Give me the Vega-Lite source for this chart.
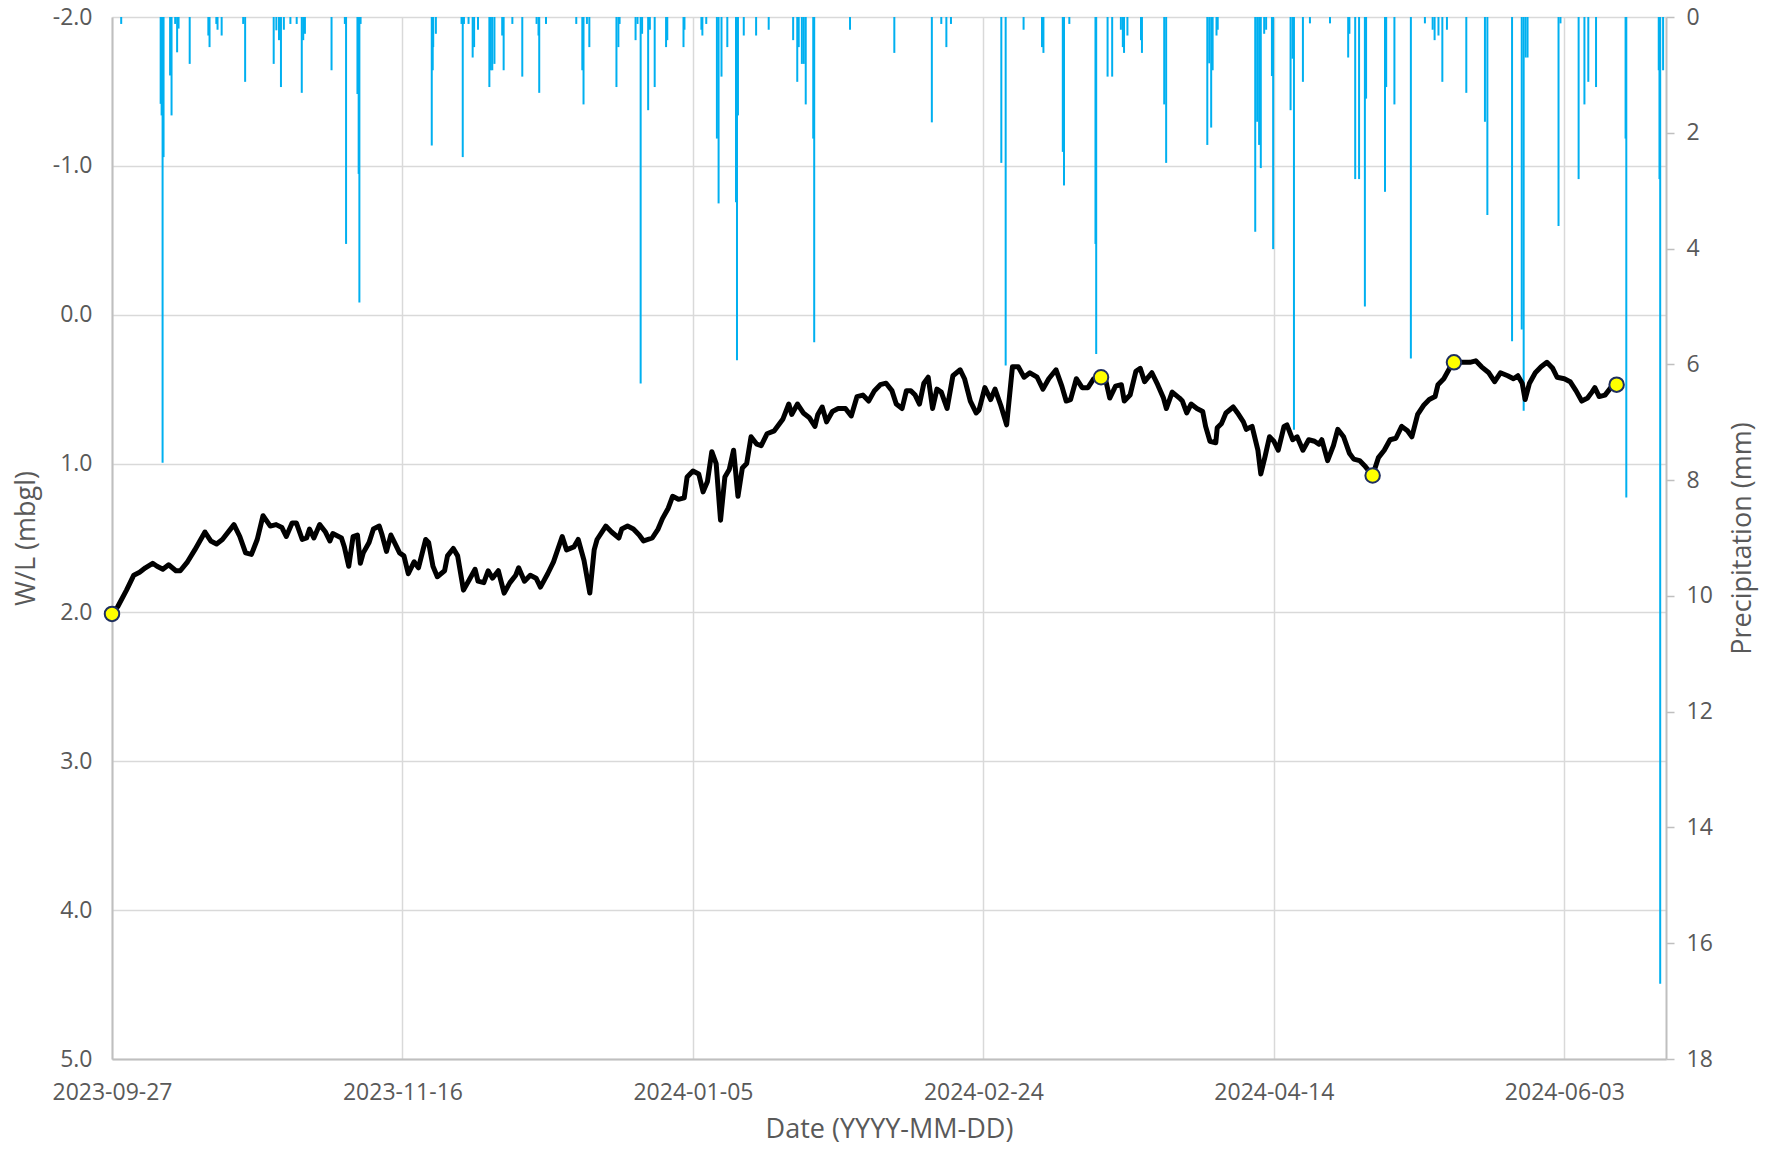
{
  "$schema": "https://vega.github.io/schema/vega-lite/v6.json",
  "width": 1554,
  "height": 1042,
  "autosize": {"type": "none"},
  "padding": {"left": 112, "top": 17, "right": 101, "bottom": 90},
  "background": "white",
  "config": {
    "font": "Open Sans",
    "view": {"stroke": null},
    "axis": {"labelFont": "Open Sans", "titleFont": "Open Sans", "labelColor": "#595959", "titleColor": "#595959", "titleFontWeight": "normal", "labelFontSize": 23, "titleFontSize": 27, "gridColor": "#d9d9d9", "gridWidth": 1.5, "domainColor": "#bfbfbf", "domainWidth": 2, "tickColor": "#bfbfbf", "tickWidth": 1.5, "labelOverlap": false}
  },
  "datasets": {
    "wl": [
      {"t":"2023-09-27T00:00","wl":2.01},{"t":"2023-09-28T00:00","wl":1.96},{"t":"2023-09-29T12:00","wl":1.85},{"t":"2023-09-30T18:00","wl":1.75},{"t":"2023-10-01T18:00","wl":1.73},{"t":"2023-10-02T18:00","wl":1.70},{"t":"2023-10-04T00:00","wl":1.67},{"t":"2023-10-04T18:00","wl":1.69},{"t":"2023-10-05T18:00","wl":1.71},{"t":"2023-10-06T18:00","wl":1.68},{"t":"2023-10-08T00:00","wl":1.72},{"t":"2023-10-08T18:00","wl":1.72},{"t":"2023-10-10T00:00","wl":1.66},{"t":"2023-10-11T06:00","wl":1.58},{"t":"2023-10-13T00:00","wl":1.46},{"t":"2023-10-14T00:00","wl":1.52},{"t":"2023-10-15T00:00","wl":1.54},{"t":"2023-10-16T00:00","wl":1.51},{"t":"2023-10-18T00:00","wl":1.41},{"t":"2023-10-19T00:00","wl":1.49},{"t":"2023-10-20T00:00","wl":1.60},{"t":"2023-10-21T00:00","wl":1.61},{"t":"2023-10-22T00:00","wl":1.51},{"t":"2023-10-23T00:00","wl":1.35},{"t":"2023-10-24T06:00","wl":1.42},{"t":"2023-10-25T06:00","wl":1.41},{"t":"2023-10-26T06:00","wl":1.43},{"t":"2023-10-27T00:00","wl":1.49},{"t":"2023-10-28T00:00","wl":1.40},{"t":"2023-10-28T18:00","wl":1.40},{"t":"2023-10-29T18:00","wl":1.51},{"t":"2023-10-30T12:00","wl":1.50},{"t":"2023-10-31T00:00","wl":1.44},{"t":"2023-10-31T18:00","wl":1.50},{"t":"2023-11-01T18:00","wl":1.41},{"t":"2023-11-02T18:00","wl":1.46},{"t":"2023-11-03T12:00","wl":1.52},{"t":"2023-11-04T00:00","wl":1.47},{"t":"2023-11-05T12:00","wl":1.50},{"t":"2023-11-06T00:00","wl":1.56},{"t":"2023-11-06T18:00","wl":1.69},{"t":"2023-11-07T12:00","wl":1.49},{"t":"2023-11-08T06:00","wl":1.48},{"t":"2023-11-08T18:00","wl":1.67},{"t":"2023-11-09T06:00","wl":1.60},{"t":"2023-11-10T06:00","wl":1.53},{"t":"2023-11-11T00:00","wl":1.44},{"t":"2023-11-12T00:00","wl":1.42},{"t":"2023-11-12T12:00","wl":1.48},{"t":"2023-11-13T06:00","wl":1.59},{"t":"2023-11-14T00:00","wl":1.48},{"t":"2023-11-15T00:00","wl":1.56},{"t":"2023-11-15T12:00","wl":1.60},{"t":"2023-11-16T06:00","wl":1.62},{"t":"2023-11-17T00:00","wl":1.74},{"t":"2023-11-18T00:00","wl":1.66},{"t":"2023-11-18T18:00","wl":1.70},{"t":"2023-11-20T00:00","wl":1.51},{"t":"2023-11-20T12:00","wl":1.53},{"t":"2023-11-21T06:00","wl":1.69},{"t":"2023-11-22T00:00","wl":1.76},{"t":"2023-11-23T06:00","wl":1.72},{"t":"2023-11-23T18:00","wl":1.62},{"t":"2023-11-24T18:00","wl":1.57},{"t":"2023-11-25T12:00","wl":1.62},{"t":"2023-11-26T12:00","wl":1.85},{"t":"2023-11-27T12:00","wl":1.78},{"t":"2023-11-28T12:00","wl":1.71},{"t":"2023-11-29T00:00","wl":1.79},{"t":"2023-11-30T00:00","wl":1.80},{"t":"2023-11-30T18:00","wl":1.72},{"t":"2023-12-01T12:00","wl":1.77},{"t":"2023-12-02T12:00","wl":1.72},{"t":"2023-12-03T12:00","wl":1.87},{"t":"2023-12-04T12:00","wl":1.80},{"t":"2023-12-05T12:00","wl":1.75},{"t":"2023-12-06T00:00","wl":1.70},{"t":"2023-12-07T00:00","wl":1.79},{"t":"2023-12-08T00:00","wl":1.75},{"t":"2023-12-09T00:00","wl":1.77},{"t":"2023-12-09T18:00","wl":1.83},{"t":"2023-12-11T00:00","wl":1.74},{"t":"2023-12-12T00:00","wl":1.66},{"t":"2023-12-13T12:00","wl":1.49},{"t":"2023-12-14T06:00","wl":1.58},{"t":"2023-12-15T12:00","wl":1.56},{"t":"2023-12-16T06:00","wl":1.51},{"t":"2023-12-17T06:00","wl":1.65},{"t":"2023-12-18T06:00","wl":1.87},{"t":"2023-12-19T00:00","wl":1.58},{"t":"2023-12-19T12:00","wl":1.51},{"t":"2023-12-21T00:00","wl":1.42},{"t":"2023-12-22T00:00","wl":1.46},{"t":"2023-12-23T06:00","wl":1.50},{"t":"2023-12-23T18:00","wl":1.44},{"t":"2023-12-24T18:00","wl":1.42},{"t":"2023-12-25T18:00","wl":1.44},{"t":"2023-12-26T18:00","wl":1.48},{"t":"2023-12-27T12:00","wl":1.52},{"t":"2023-12-29T00:00","wl":1.50},{"t":"2023-12-30T00:00","wl":1.44},{"t":"2023-12-30T18:00","wl":1.37},{"t":"2023-12-31T18:00","wl":1.30},{"t":"2024-01-01T12:00","wl":1.22},{"t":"2024-01-02T12:00","wl":1.24},{"t":"2024-01-03T12:00","wl":1.23},{"t":"2024-01-04T00:00","wl":1.09},{"t":"2024-01-05T00:00","wl":1.05},{"t":"2024-01-06T00:00","wl":1.07},{"t":"2024-01-06T18:00","wl":1.19},{"t":"2024-01-07T12:00","wl":1.12},{"t":"2024-01-08T06:00","wl":0.92},{"t":"2024-01-09T00:00","wl":1.00},{"t":"2024-01-09T18:00","wl":1.38},{"t":"2024-01-10T12:00","wl":1.09},{"t":"2024-01-11T06:00","wl":1.04},{"t":"2024-01-12T00:00","wl":0.91},{"t":"2024-01-12T18:00","wl":1.22},{"t":"2024-01-13T12:00","wl":1.03},{"t":"2024-01-14T06:00","wl":1.00},{"t":"2024-01-15T00:00","wl":0.82},{"t":"2024-01-16T00:00","wl":0.87},{"t":"2024-01-16T18:00","wl":0.88},{"t":"2024-01-17T18:00","wl":0.80},{"t":"2024-01-19T00:00","wl":0.78},{"t":"2024-01-20T12:00","wl":0.70},{"t":"2024-01-21T12:00","wl":0.60},{"t":"2024-01-22T00:00","wl":0.67},{"t":"2024-01-23T00:00","wl":0.60},{"t":"2024-01-24T00:00","wl":0.66},{"t":"2024-01-25T00:00","wl":0.69},{"t":"2024-01-26T00:00","wl":0.75},{"t":"2024-01-26T12:00","wl":0.67},{"t":"2024-01-27T06:00","wl":0.62},{"t":"2024-01-28T00:00","wl":0.72},{"t":"2024-01-29T00:00","wl":0.65},{"t":"2024-01-30T00:00","wl":0.63},{"t":"2024-01-31T06:00","wl":0.63},{"t":"2024-02-01T06:00","wl":0.68},{"t":"2024-02-02T06:00","wl":0.55},{"t":"2024-02-03T06:00","wl":0.54},{"t":"2024-02-04T06:00","wl":0.58},{"t":"2024-02-05T06:00","wl":0.51},{"t":"2024-02-06T06:00","wl":0.47},{"t":"2024-02-07T06:00","wl":0.46},{"t":"2024-02-08T06:00","wl":0.51},{"t":"2024-02-09T00:00","wl":0.60},{"t":"2024-02-10T00:00","wl":0.63},{"t":"2024-02-10T18:00","wl":0.51},{"t":"2024-02-11T12:00","wl":0.51},{"t":"2024-02-12T06:00","wl":0.54},{"t":"2024-02-13T00:00","wl":0.60},{"t":"2024-02-13T18:00","wl":0.46},{"t":"2024-02-14T12:00","wl":0.42},{"t":"2024-02-15T06:00","wl":0.63},{"t":"2024-02-16T00:00","wl":0.50},{"t":"2024-02-16T18:00","wl":0.52},{"t":"2024-02-17T18:00","wl":0.63},{"t":"2024-02-18T18:00","wl":0.41},{"t":"2024-02-20T00:00","wl":0.37},{"t":"2024-02-20T18:00","wl":0.43},{"t":"2024-02-21T18:00","wl":0.58},{"t":"2024-02-22T18:00","wl":0.66},{"t":"2024-02-23T06:00","wl":0.64},{"t":"2024-02-24T06:00","wl":0.49},{"t":"2024-02-25T06:00","wl":0.57},{"t":"2024-02-26T00:00","wl":0.50},{"t":"2024-02-27T00:00","wl":0.61},{"t":"2024-02-28T00:00","wl":0.74},{"t":"2024-02-29T00:00","wl":0.35},{"t":"2024-03-01T00:00","wl":0.35},{"t":"2024-03-02T00:00","wl":0.42},{"t":"2024-03-03T00:00","wl":0.39},{"t":"2024-03-04T06:00","wl":0.42},{"t":"2024-03-05T06:00","wl":0.50},{"t":"2024-03-06T06:00","wl":0.43},{"t":"2024-03-07T12:00","wl":0.37},{"t":"2024-03-08T12:00","wl":0.48},{"t":"2024-03-09T06:00","wl":0.58},{"t":"2024-03-10T00:00","wl":0.57},{"t":"2024-03-11T00:00","wl":0.43},{"t":"2024-03-12T00:00","wl":0.49},{"t":"2024-03-13T00:00","wl":0.49},{"t":"2024-03-14T00:00","wl":0.43},{"t":"2024-03-15T06:00","wl":0.42},{"t":"2024-03-16T00:00","wl":0.43},{"t":"2024-03-16T18:00","wl":0.56},{"t":"2024-03-17T18:00","wl":0.48},{"t":"2024-03-18T18:00","wl":0.47},{"t":"2024-03-19T06:00","wl":0.58},{"t":"2024-03-20T06:00","wl":0.54},{"t":"2024-03-21T06:00","wl":0.38},{"t":"2024-03-22T00:00","wl":0.36},{"t":"2024-03-22T18:00","wl":0.45},{"t":"2024-03-24T00:00","wl":0.39},{"t":"2024-03-25T00:00","wl":0.47},{"t":"2024-03-26T00:00","wl":0.56},{"t":"2024-03-26T12:00","wl":0.63},{"t":"2024-03-27T12:00","wl":0.52},{"t":"2024-03-28T18:00","wl":0.56},{"t":"2024-03-29T06:00","wl":0.58},{"t":"2024-03-30T00:00","wl":0.66},{"t":"2024-03-30T18:00","wl":0.60},{"t":"2024-03-31T18:00","wl":0.63},{"t":"2024-04-01T18:00","wl":0.65},{"t":"2024-04-02T06:00","wl":0.75},{"t":"2024-04-03T00:00","wl":0.85},{"t":"2024-04-04T00:00","wl":0.86},{"t":"2024-04-04T06:00","wl":0.76},{"t":"2024-04-05T00:00","wl":0.73},{"t":"2024-04-05T18:00","wl":0.66},{"t":"2024-04-07T00:00","wl":0.62},{"t":"2024-04-07T18:00","wl":0.66},{"t":"2024-04-08T18:00","wl":0.72},{"t":"2024-04-09T06:00","wl":0.77},{"t":"2024-04-10T06:00","wl":0.75},{"t":"2024-04-11T06:00","wl":0.91},{"t":"2024-04-11T18:00","wl":1.07},{"t":"2024-04-12T12:00","wl":0.95},{"t":"2024-04-13T06:00","wl":0.82},{"t":"2024-04-14T00:00","wl":0.85},{"t":"2024-04-14T18:00","wl":0.91},{"t":"2024-04-15T18:00","wl":0.75},{"t":"2024-04-16T06:00","wl":0.74},{"t":"2024-04-17T06:00","wl":0.84},{"t":"2024-04-18T00:00","wl":0.82},{"t":"2024-04-19T00:00","wl":0.91},{"t":"2024-04-20T00:00","wl":0.84},{"t":"2024-04-21T00:00","wl":0.85},{"t":"2024-04-21T18:00","wl":0.87},{"t":"2024-04-22T06:00","wl":0.84},{"t":"2024-04-23T06:00","wl":0.98},{"t":"2024-04-24T06:00","wl":0.88},{"t":"2024-04-25T00:00","wl":0.77},{"t":"2024-04-26T00:00","wl":0.82},{"t":"2024-04-27T00:00","wl":0.93},{"t":"2024-04-27T18:00","wl":0.97},{"t":"2024-04-28T18:00","wl":0.98},{"t":"2024-04-29T18:00","wl":1.02},{"t":"2024-05-01T00:00","wl":1.08},{"t":"2024-05-02T00:00","wl":0.96},{"t":"2024-05-03T00:00","wl":0.91},{"t":"2024-05-04T00:00","wl":0.84},{"t":"2024-05-05T00:00","wl":0.83},{"t":"2024-05-06T00:00","wl":0.75},{"t":"2024-05-07T00:00","wl":0.78},{"t":"2024-05-07T18:00","wl":0.82},{"t":"2024-05-08T18:00","wl":0.67},{"t":"2024-05-09T18:00","wl":0.61},{"t":"2024-05-10T18:00","wl":0.57},{"t":"2024-05-11T18:00","wl":0.55},{"t":"2024-05-12T06:00","wl":0.47},{"t":"2024-05-13T06:00","wl":0.43},{"t":"2024-05-14T06:00","wl":0.36},{"t":"2024-05-15T00:00","wl":0.32},{"t":"2024-05-16T06:00","wl":0.32},{"t":"2024-05-17T18:00","wl":0.32},{"t":"2024-05-18T18:00","wl":0.31},{"t":"2024-05-19T18:00","wl":0.35},{"t":"2024-05-21T00:00","wl":0.39},{"t":"2024-05-22T00:00","wl":0.45},{"t":"2024-05-23T00:00","wl":0.39},{"t":"2024-05-24T06:00","wl":0.41},{"t":"2024-05-25T06:00","wl":0.43},{"t":"2024-05-26T00:00","wl":0.41},{"t":"2024-05-26T18:00","wl":0.46},{"t":"2024-05-27T06:00","wl":0.57},{"t":"2024-05-28T00:00","wl":0.46},{"t":"2024-05-29T00:00","wl":0.39},{"t":"2024-05-30T00:00","wl":0.35},{"t":"2024-05-31T00:00","wl":0.32},{"t":"2024-06-01T00:00","wl":0.36},{"t":"2024-06-01T18:00","wl":0.42},{"t":"2024-06-03T00:00","wl":0.43},{"t":"2024-06-04T00:00","wl":0.45},{"t":"2024-06-05T00:00","wl":0.51},{"t":"2024-06-06T00:00","wl":0.58},{"t":"2024-06-07T00:00","wl":0.56},{"t":"2024-06-07T18:00","wl":0.52},{"t":"2024-06-08T06:00","wl":0.49},{"t":"2024-06-09T00:00","wl":0.55},{"t":"2024-06-10T00:00","wl":0.54},{"t":"2024-06-11T00:00","wl":0.49},{"t":"2024-06-12T00:00","wl":0.47}
    ],
    "pts": [
      {"t":"2023-09-27T00:00","wl":2.01},{"t":"2024-03-15T06:00","wl":0.42},{"t":"2024-05-01T00:00","wl":1.08},{"t":"2024-05-15T00:00","wl":0.32},{"t":"2024-06-12T00:00","wl":0.47}
    ],
    "pr": [
      {"t":"2023-09-28T14:00","p":0.12},{"t":"2023-10-05T09:00","p":1.50},{"t":"2023-10-05T13:00","p":1.70},{"t":"2023-10-05T17:00","p":7.7},{"t":"2023-10-05T21:00","p":2.42},{"t":"2023-10-07T00:00","p":1.01},{"t":"2023-10-07T06:00","p":1.70},{"t":"2023-10-07T21:00","p":0.12},{"t":"2023-10-08T05:00","p":0.61},{"t":"2023-10-08T11:00","p":0.20},{"t":"2023-10-10T09:00","p":0.81},{"t":"2023-10-13T14:00","p":0.32},{"t":"2023-10-13T19:00","p":0.52},{"t":"2023-10-14T23:00","p":0.12},{"t":"2023-10-15T04:00","p":0.22},{"t":"2023-10-15T21:00","p":0.32},{"t":"2023-10-19T14:00","p":0.12},{"t":"2023-10-19T22:00","p":1.12},{"t":"2023-10-24T20:00","p":0.81},{"t":"2023-10-25T07:00","p":0.23},{"t":"2023-10-25T18:00","p":0.40},{"t":"2023-10-26T02:00","p":1.21},{"t":"2023-10-26T14:00","p":0.22},{"t":"2023-10-27T17:00","p":0.12},{"t":"2023-10-28T19:00","p":0.12},{"t":"2023-10-29T16:00","p":1.31},{"t":"2023-10-29T22:00","p":0.40},{"t":"2023-10-30T05:00","p":0.29},{"t":"2023-11-03T19:00","p":0.92},{"t":"2023-11-06T02:00","p":0.12},{"t":"2023-11-06T07:00","p":3.92},{"t":"2023-11-08T06:00","p":1.33},{"t":"2023-11-08T11:00","p":2.71},{"t":"2023-11-08T14:00","p":4.93},{"t":"2023-11-08T19:00","p":0.12},{"t":"2023-11-21T01:00","p":2.22},{"t":"2023-11-21T05:00","p":0.92},{"t":"2023-11-21T07:00","p":0.52},{"t":"2023-11-21T18:00","p":0.29},{"t":"2023-11-26T04:00","p":0.12},{"t":"2023-11-26T09:00","p":2.42},{"t":"2023-11-26T14:00","p":0.12},{"t":"2023-11-27T09:00","p":0.12},{"t":"2023-11-28T02:00","p":0.70},{"t":"2023-11-28T08:00","p":0.52},{"t":"2023-11-29T00:00","p":0.22},{"t":"2023-11-30T23:00","p":1.21},{"t":"2023-12-01T05:00","p":0.92},{"t":"2023-12-01T11:00","p":0.92},{"t":"2023-12-01T20:00","p":0.81},{"t":"2023-12-03T04:00","p":0.32},{"t":"2023-12-03T10:00","p":0.92},{"t":"2023-12-04T22:00","p":0.12},{"t":"2023-12-06T15:00","p":1.03},{"t":"2023-12-09T02:00","p":0.12},{"t":"2023-12-09T10:00","p":0.32},{"t":"2023-12-09T13:00","p":1.31},{"t":"2023-12-10T17:00","p":0.12},{"t":"2023-12-15T22:00","p":0.12},{"t":"2023-12-16T23:00","p":0.92},{"t":"2023-12-17T04:00","p":1.51},{"t":"2023-12-17T18:00","p":0.12},{"t":"2023-12-18T04:00","p":0.52},{"t":"2023-12-22T20:00","p":1.21},{"t":"2023-12-23T04:00","p":0.52},{"t":"2023-12-23T09:00","p":0.12},{"t":"2023-12-26T03:00","p":0.40},{"t":"2023-12-26T11:00","p":0.12},{"t":"2023-12-27T00:00","p":6.33},{"t":"2023-12-27T06:00","p":0.29},{"t":"2023-12-28T07:00","p":1.61},{"t":"2023-12-28T14:00","p":0.22},{"t":"2023-12-29T10:00","p":1.21},{"t":"2023-12-31T09:00","p":0.52},{"t":"2023-12-31T14:00","p":0.40},{"t":"2024-01-03T09:00","p":0.52},{"t":"2024-01-03T13:00","p":0.22},{"t":"2024-01-06T11:00","p":0.22},{"t":"2024-01-06T15:00","p":0.32},{"t":"2024-01-07T07:00","p":0.12},{"t":"2024-01-09T03:00","p":2.10},{"t":"2024-01-09T10:00","p":3.22},{"t":"2024-01-09T22:00","p":1.03},{"t":"2024-01-10T22:00","p":0.52},{"t":"2024-01-12T10:00","p":3.20},{"t":"2024-01-12T14:00","p":5.93},{"t":"2024-01-12T18:00","p":1.70},{"t":"2024-01-13T18:00","p":0.32},{"t":"2024-01-15T21:00","p":0.32},{"t":"2024-01-18T01:00","p":0.22},{"t":"2024-01-22T06:00","p":0.40},{"t":"2024-01-22T23:00","p":1.12},{"t":"2024-01-23T05:00","p":0.52},{"t":"2024-01-23T18:00","p":0.81},{"t":"2024-01-24T02:00","p":0.81},{"t":"2024-01-24T10:00","p":1.51},{"t":"2024-01-25T17:00","p":2.10},{"t":"2024-01-25T21:00","p":5.62},{"t":"2024-02-01T01:00","p":0.22},{"t":"2024-02-08T16:00","p":0.62},{"t":"2024-02-15T03:00","p":1.82},{"t":"2024-02-16T18:00","p":0.12},{"t":"2024-02-17T15:00","p":0.52},{"t":"2024-02-18T10:00","p":0.12},{"t":"2024-02-27T02:00","p":2.52},{"t":"2024-02-27T20:00","p":6.02},{"t":"2024-03-01T22:00","p":0.22},{"t":"2024-03-05T02:00","p":0.52},{"t":"2024-03-05T08:00","p":0.62},{"t":"2024-03-08T16:00","p":2.33},{"t":"2024-03-08T21:00","p":2.91},{"t":"2024-03-09T19:00","p":0.12},{"t":"2024-03-14T07:00","p":3.92},{"t":"2024-03-14T10:00","p":5.82},{"t":"2024-03-16T09:00","p":1.03},{"t":"2024-03-17T04:00","p":1.03},{"t":"2024-03-18T16:00","p":0.22},{"t":"2024-03-19T00:00","p":0.52},{"t":"2024-03-19T05:00","p":0.62},{"t":"2024-03-19T19:00","p":0.32},{"t":"2024-03-22T03:00","p":0.40},{"t":"2024-03-22T07:00","p":0.62},{"t":"2024-03-26T03:00","p":1.51},{"t":"2024-03-26T11:00","p":2.52},{"t":"2024-04-02T13:00","p":2.21},{"t":"2024-04-02T21:00","p":0.80},{"t":"2024-04-03T05:00","p":1.91},{"t":"2024-04-03T11:00","p":0.92},{"t":"2024-04-04T03:00","p":0.32},{"t":"2024-04-04T08:00","p":0.22},{"t":"2024-04-10T19:00","p":3.71},{"t":"2024-04-11T03:00","p":1.81},{"t":"2024-04-11T11:00","p":2.21},{"t":"2024-04-11T18:00","p":2.61},{"t":"2024-04-12T08:00","p":0.29},{"t":"2024-04-12T16:00","p":0.22},{"t":"2024-04-13T16:00","p":1.02},{"t":"2024-04-13T21:00","p":4.01},{"t":"2024-04-16T21:00","p":1.61},{"t":"2024-04-17T05:00","p":0.72},{"t":"2024-04-17T11:00","p":7.13},{"t":"2024-04-19T00:00","p":1.12},{"t":"2024-04-20T05:00","p":0.11},{"t":"2024-04-23T16:00","p":0.11},{"t":"2024-04-26T19:00","p":0.70},{"t":"2024-04-27T00:00","p":0.29},{"t":"2024-04-28T00:00","p":2.80},{"t":"2024-04-28T16:00","p":2.80},{"t":"2024-04-29T16:00","p":5.0},{"t":"2024-04-29T21:00","p":1.41},{"t":"2024-05-03T03:00","p":3.02},{"t":"2024-05-03T08:00","p":1.21},{"t":"2024-05-04T18:00","p":1.51},{"t":"2024-05-07T14:00","p":5.9},{"t":"2024-05-10T00:00","p":0.11},{"t":"2024-05-11T08:00","p":0.22},{"t":"2024-05-11T16:00","p":0.40},{"t":"2024-05-12T08:00","p":0.32},{"t":"2024-05-13T00:00","p":1.12},{"t":"2024-05-13T19:00","p":0.22},{"t":"2024-05-17T03:00","p":1.31},{"t":"2024-05-20T08:00","p":1.81},{"t":"2024-05-20T18:00","p":3.42},{"t":"2024-05-25T00:00","p":5.6},{"t":"2024-05-26T16:00","p":5.40},{"t":"2024-05-27T00:00","p":6.8},{"t":"2024-05-27T08:00","p":0.70},{"t":"2024-05-27T16:00","p":0.70},{"t":"2024-06-02T00:00","p":3.61},{"t":"2024-06-02T08:00","p":0.11},{"t":"2024-06-05T11:00","p":2.80},{"t":"2024-06-06T11:00","p":1.51},{"t":"2024-06-07T03:00","p":1.12},{"t":"2024-06-08T11:00","p":1.21},{"t":"2024-06-13T13:00","p":2.10},{"t":"2024-06-13T16:00","p":8.3},{"t":"2024-06-19T06:00","p":0.92},{"t":"2024-06-19T09:00","p":2.8},{"t":"2024-06-19T12:00","p":16.7},{"t":"2024-06-20T00:00","p":0.92}
    ]
  },
  "encoding": {
    "x": {
      "field": "t", "type": "temporal",
      "scale": {"domain": [{"year": 2023, "month": 9, "date": 27}, {"year": 2024, "month": 6, "date": 20, "hours": 12}]},
      "axis": {
        "title": "Date (YYYY-MM-DD)",
        "format": "%Y-%m-%d",
        "values": [{"year": 2023, "month": 9, "date": 27}, {"year": 2023, "month": 11, "date": 16}, {"year": 2024, "month": 1, "date": 5}, {"year": 2024, "month": 2, "date": 24}, {"year": 2024, "month": 4, "date": 14}, {"year": 2024, "month": 6, "date": 3}],
        "grid": true, "ticks": false, "tickSize": 0, "labelPadding": 22, "labelFlush": false, "titlePadding": 12
      }
    }
  },
  "layer": [
    {
      "data": {"name": "pr"},
      "mark": {"type": "rule", "color": "#00b0f0", "strokeWidth": 2},
      "encoding": {
        "y": {"field": "p", "type": "quantitative",
          "scale": {"domain": [0, 18], "reverse": true, "nice": false, "zero": true},
          "axis": {"orient": "right", "title": "Precipitation (mm)", "values": [0, 2, 4, 6, 8, 10, 12, 14, 16, 18], "format": "d", "grid": false, "ticks": true, "tickSize": 8, "labelPadding": 12, "titleAngle": 270, "titlePadding": 44}
        },
        "y2": {"datum": 0}
      }
    },
    {
      "layer": [
        {
          "data": {"name": "wl"},
          "mark": {"type": "line", "color": "black", "strokeWidth": 5, "strokeJoin": "round", "strokeCap": "round"},
          "encoding": {
            "y": {"field": "wl", "type": "quantitative",
              "scale": {"domain": [-2, 5], "reverse": true, "nice": false, "zero": false},
              "axis": {"orient": "left", "title": "W/L (mbgl)", "values": [-2, -1, 0, 1, 2, 3, 4, 5], "format": ".1f", "labelExpr": "replace(datum.label, '\u2212', '-')", "grid": true, "ticks": false, "tickSize": 0, "labelPadding": 20, "titlePadding": 12}
            }
          }
        },
        {
          "data": {"name": "pts"},
          "mark": {"type": "point", "shape": "circle", "filled": true, "fill": "#ffff00", "stroke": "#1f2f5f", "strokeWidth": 2, "size": 210, "opacity": 1},
          "encoding": {
            "y": {"field": "wl", "type": "quantitative"}
          }
        }
      ]
    }
  ],
  "resolve": {"scale": {"y": "independent"}}
}
